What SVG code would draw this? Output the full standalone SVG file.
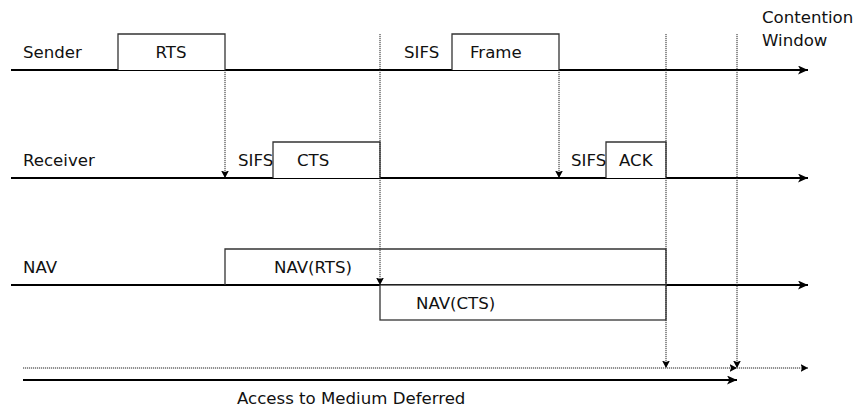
<svg xmlns="http://www.w3.org/2000/svg" width="856" height="408" viewBox="0 0 856 408">
  <style>
    text { font-family: "DejaVu Sans", "Liberation Sans", sans-serif; font-size: 16.6px; fill: #111; }
    .axis { stroke: #000; stroke-width: 2; fill: none; }
    .box { stroke: #333; stroke-width: 1.3; fill: #fff; }
    .dot { stroke: #222; stroke-width: 1; stroke-dasharray: 1.2 0.8; fill: none; }
  </style>
  <defs>
    <marker id="arrow" markerUnits="userSpaceOnUse" markerWidth="12" markerHeight="10" refX="10" refY="4.5" orient="auto">
      <path d="M0,0 L10,4.5 L0,9 L2.5,4.5 z" fill="#000"/>
    </marker>
    <marker id="arrowSmall" markerUnits="userSpaceOnUse" markerWidth="9" markerHeight="9" refX="7.5" refY="4" orient="auto">
      <path d="M0,0 L7.5,4 L0,8 L1.5,4 z" fill="#000"/>
    </marker>
  </defs>

  <!-- time axes -->
  <g id="axes">
    <line class="axis" x1="11" y1="70" x2="808" y2="70" marker-end="url(#arrow)"/>
    <line class="axis" x1="11" y1="178" x2="808" y2="178" marker-end="url(#arrow)"/>
    <line class="axis" x1="11" y1="285" x2="808" y2="285" marker-end="url(#arrow)"/>
    <line class="axis" x1="23" y1="380" x2="737" y2="380" marker-end="url(#arrow)"/>
  </g>

  <!-- station labels -->
  <g id="labels">
    <text x="23" y="58">Sender</text>
    <text x="23" y="166">Receiver</text>
    <text x="23" y="273">NAV</text>
    <text x="762" y="23">Contention</text>
    <text x="762" y="46">Window</text>
    <text x="237" y="404">Access to Medium Deferred</text>
  </g>

  <!-- frames -->
  <g id="rts">
    <path class="box" d="M118,70 V34 H225 V70"/>
    <text x="171" y="58" text-anchor="middle">RTS</text>
  </g>
  <g id="frame">
    <text x="404" y="58">SIFS</text>
    <path class="box" d="M452,70 V34 H559 V70"/>
    <text x="470" y="58">Frame</text>
  </g>
  <g id="cts">
    <text x="238" y="166">SIFS</text>
    <path class="box" d="M273,178 V142 H380 V178"/>
    <text x="297" y="166">CTS</text>
  </g>
  <g id="ack">
    <text x="571" y="166">SIFS</text>
    <path class="box" d="M606,178 V142 H666 V178"/>
    <text x="619" y="166">ACK</text>
  </g>
  <g id="nav-rts">
    <path class="box" style="fill:none" d="M225,285 V249 H666 V285"/>
    <text x="274" y="273">NAV(RTS)</text>
  </g>
  <g id="nav-cts">
    <rect class="box" x="380" y="285" width="286" height="35"/>
    <text x="416" y="309">NAV(CTS)</text>
  </g>

  <!-- timing connectors -->
  <g id="connectors">
    <line class="dot" x1="225" y1="70" x2="225" y2="178" marker-end="url(#arrowSmall)"/>
    <line class="dot" x1="380" y1="34" x2="380" y2="285" marker-end="url(#arrowSmall)"/>
    <line class="dot" x1="559" y1="70" x2="559" y2="178" marker-end="url(#arrowSmall)"/>
    <line class="dot" x1="666" y1="34" x2="666" y2="368" marker-end="url(#arrowSmall)"/>
    <line class="dot" x1="737" y1="34" x2="737" y2="368" marker-end="url(#arrowSmall)"/>
    <line class="dot" x1="23" y1="368" x2="737" y2="368" marker-end="url(#arrowSmall)"/>
    <line class="dot" x1="737" y1="368" x2="808" y2="368" marker-end="url(#arrowSmall)"/>
  </g>
</svg>
